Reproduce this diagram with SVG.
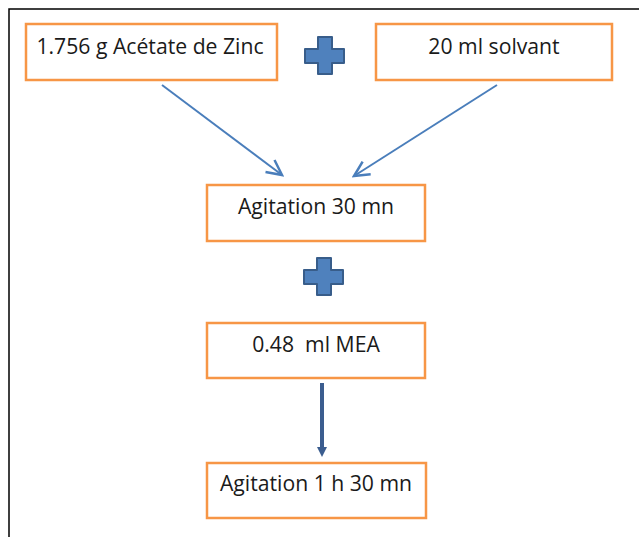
<svg xmlns="http://www.w3.org/2000/svg" width="639" height="537" viewBox="0 0 639 537">
<style>
.box{fill:#fff;stroke:#F79646;stroke-width:2.5}
.t{font-family:"Open Sans","Liberation Sans",sans-serif;font-size:21.2px;fill:#1a1a1a;text-anchor:middle}
.plus{fill:#4F81BD;stroke:#385D8A;stroke-width:2;stroke-linejoin:round}
.arr{stroke:#4A7EBB;stroke-width:2;fill:none}
.arr2{stroke:#3B5D8F;stroke-width:4;fill:none}
</style>
<defs>
<marker id="open" markerUnits="userSpaceOnUse" markerWidth="20" markerHeight="20" refX="14" refY="8" orient="auto" viewBox="0 0 16 16">
<path d="M2,2 L14,8 L2,14" fill="none" stroke="#4A7EBB" stroke-width="2"/>
</marker>
<marker id="tri" markerUnits="userSpaceOnUse" markerWidth="10" markerHeight="10" refX="5" refY="5" orient="auto" viewBox="0 0 10 10">
<path d="M0,0 L10,5 L0,10 Z" fill="#3B5D8F"/>
</marker>
</defs>
<rect width="639" height="537" fill="#fff"/>
<path d="M9,537 V9 H639" fill="none" stroke="#000" stroke-width="1.5"/>
<g id="connectors">
<line class="arr" x1="162" y1="85" x2="282" y2="175" marker-end="url(#open)"/>
<line class="arr" x1="497" y1="85" x2="354" y2="176" marker-end="url(#open)"/>
<line class="arr2" x1="322" y1="383" x2="322" y2="452" marker-end="url(#tri)"/>
</g>
<g id="n1"><rect class="box" x="26" y="24" width="251" height="56"/><text class="t" x="150" y="54">1.756 g Acétate de Zinc</text></g>
<g id="plus1"><path class="plus" d="M318,37 H332 V49 H344 V63 H332 V74 H318 V63 H305 V49 H318 Z"/></g>
<g id="n2"><rect class="box" x="376" y="24" width="236" height="56"/><text class="t" x="494" y="54">20 ml solvant</text></g>
<g id="n3"><rect class="box" x="207" y="185" width="218" height="56"/><text class="t" x="316" y="214">Agitation 30 mn</text></g>
<g id="plus2"><path class="plus" d="M317,258 H331 V270 H343 V284 H331 V295 H317 V284 H304 V270 H317 Z"/></g>
<g id="n4"><rect class="box" x="207" y="323" width="218" height="55"/><text class="t" x="316" y="352" xml:space="preserve">0.48  ml MEA</text></g>
<g id="n5"><rect class="box" x="207" y="463" width="219" height="55"/><text class="t" x="316" y="491">Agitation 1 h 30 mn</text></g>
</svg>
